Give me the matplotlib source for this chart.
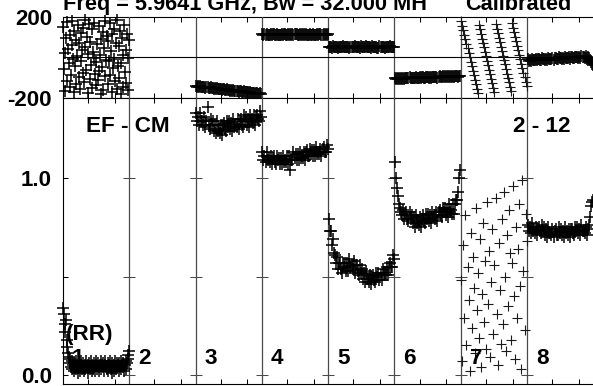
import matplotlib
matplotlib.use('Agg')
import matplotlib.pyplot as plt
import numpy as np

plt.rcParams['font.family'] = ['Liberation Sans', 'DejaVu Sans']
plt.rcParams['font.weight'] = 'bold'

# ---------------- data ----------------
panel_labels = ['1', '2', '3', '4', '5', '6', '7', '8']
title_left = 'Freq = 5.9641 GHz, Bw = 32.000 MH'
title_right = 'Calibrated'
baseline_label = 'EF - CM'
time_label = '2 - 12'
pol_label = '(RR)'

ph_1 = [150, -60, 20, -170, 95, -120, 175, 40, -30, -150, 110, -90, 60, 180, -10, -175,
        130, -45, 85, -135, 5, 160, -100, 70, -160, 120, -20, 35, -80, 145, -125, 185,
        50, -65, 100, -180, 15, 165, -110, 75, -40, 140, -155, 25, -5, 170, -85, -140,
        -25, 65, -115, 155, -70, 10, -185, 90, -50, 125, -165, 45, -95, 178, -15, 105,
        -135, 80, -20, 168, -88, 32, -172, 118, -55, 142, -8, -118, 72, -158, 186, -42,
        58, -102, 132, -28, -182, 98, 12, -148, 162, -72, 38, -128, 115, -3, -162, 88]
am_1 = [.34, .31, .26, .22, .28, .18, .14, .11, .09, .06, .08, .04, .07, .03, .05, .02,
        .06, .04, .07, .03, .05, .01, .06, .04, .02, .05, .07, .03, .04, .06, .02, .05,
        .03, .07, .04, .01, .05, .06, .03, .04, .07, .02, .05, .03, .06, .04, .02, .05,
        .07, .03, .06, .04, .02, .05, .07, .03, .05, .04, .06, .02, .05, .07, .04, .03,
        .06, .02, .05, .04, .07, .03, .01, .06, .04, .05, .02, .07, .03, .06, .04, .05,
        .02, .06, .04, .07, .03, .05, .04, .06, .02, .05, .07, .03, .06, .08, .10, .12]
ph_2 = []
am_2 = []
ph_3 = [-142, -147, -144, -149, -143, -148, -148, -150, -147, -152, -149, -149, -152, -154, -149, -153,
        -152, -156, -154, -158, -153, -158, -157, -160, -156, -162, -159, -158, -162, -163, -159, -163,
        -161, -166, -163, -168, -163, -167, -167, -169, -166, -172, -168, -168, -171, -173, -169, -172,
        -171, -175, -173, -178, -172, -177, -176, -179, -176, -181, -178, -177, -181, -183, -178, -182]
am_3 = [1.33, 1.29, 1.31, 1.27, 1.33, 1.29, 1.29, 1.27, 1.31, 1.26, 1.29, 1.36, 1.27, 1.25, 1.30, 1.27,
        1.29, 1.24, 1.27, 1.23, 1.29, 1.24, 1.25, 1.23, 1.27, 1.22, 1.27, 1.28, 1.25, 1.24, 1.29, 1.26,
        1.29, 1.25, 1.28, 1.24, 1.30, 1.26, 1.27, 1.26, 1.30, 1.25, 1.29, 1.30, 1.27, 1.26, 1.32, 1.29,
        1.31, 1.27, 1.30, 1.26, 1.32, 1.29, 1.30, 1.28, 1.32, 1.27, 1.31, 1.32, 1.30, 1.29, 1.34, 1.31]
ph_4 = [115, 111, 114, 110, 117, 112, 113, 111, 115, 110, 114, 115, 112, 111, 117, 113,
        112, 113, 111, 115, 110, 114, 115, 112, 111, 116, 113, 115, 111, 114, 110, 116,
        114, 115, 112, 111, 116, 113, 115, 111, 114, 110, 116, 112, 113, 111, 115, 110,
        110, 116, 112, 113, 111, 115, 110, 114, 115, 112, 111, 116, 113, 115, 111, 114]
am_4 = [1.13, 1.09, 1.11, 1.08, 1.13, 1.09, 1.10, 1.08, 1.11, 1.07, 1.10, 1.11, 1.08, 1.07, 1.11, 1.09,
        1.10, 1.07, 1.10, 1.07, 1.11, 1.08, 1.09, 1.08, 1.11, 1.07, 1.11, 1.04, 1.09, 1.09, 1.13, 1.10,
        1.12, 1.09, 1.12, 1.09, 1.13, 1.10, 1.11, 1.10, 1.13, 1.09, 1.13, 1.14, 1.11, 1.11, 1.15, 1.12,
        1.14, 1.11, 1.14, 1.11, 1.16, 1.12, 1.13, 1.12, 1.15, 1.11, 1.15, 1.16, 1.13, 1.13, 1.17, 1.15]
ph_5 = [53, 49, 52, 48, 54, 50, 51, 49, 53, 48, 52, 53, 50, 49, 54, 51,
        50, 51, 49, 53, 48, 52, 53, 50, 49, 54, 51, 53, 49, 52, 48, 54,
        52, 53, 50, 49, 54, 51, 53, 49, 52, 48, 54, 50, 51, 49, 53, 48,
        48, 54, 50, 51, 49, 53, 48, 52, 53, 50, 49, 54, 51, 53, 49, 52]
am_5 = [.79, .73, .73, .66, .69, .62, .61, .57, .60, .54, .57, .57, .54, .52, .57, .55,
        .57, .53, .57, .53, .59, .55, .56, .54, .58, .52, .56, .56, .53, .51, .56, .52,
        .54, .49, .52, .47, .53, .49, .49, .47, .51, .46, .50, .51, .48, .47, .52, .50,
        .52, .48, .51, .48, .54, .51, .52, .51, .55, .51, .55, .57, .55, .55, .61, .59]
ph_6 = [-104, -108, -105, -108, -102, -106, -105, -107, -102, -107, -103, -102, -105, -105, -100, -103,
        -101, -105, -101, -105, -99, -103, -102, -103, -99, -104, -100, -99, -101, -102, -97, -100,
        -98, -101, -98, -102, -96, -100, -98, -100, -96, -101, -97, -95, -98, -99, -94, -97,
        -94, -98, -95, -99, -93, -96, -95, -97, -93, -98, -93, -92, -95, -96, -91, -93]
am_6 = [1.08, 1.00, .95, .91, .87, .85, .83, .81, .84, .79, .82, .83, .79, .78, .83, .79,
        .81, .77, .80, .75, .81, .77, .78, .76, .80, .75, .79, .81, .78, .77, .82, .79,
        .82, .78, .81, .77, .83, .80, .81, .79, .83, .78, .83, .84, .81, .80, .85, .83,
        .85, .81, .84, .80, .87, .83, .84, .82, .87, .82, .87, .89, .89, .93, 1.00, 1.04]
ph_7 = [178, 156, 133, 112, 89, 67, 45, 22, 0, -22, -45, -67, -89, -111, -134, -156,
        -178, 160, 138, 116, 93, 71, 49, 27, 4, -18, -40, -63, -85, -107, -129, -152,
        -174, 164, 142, 120, 97, 75, 53, 31, 8, -14, -36, -58, -81, -103, -125, -147,
        -170, 168, 146, 124, 101, 79, 57, 35, 12, -10, -32, -54, -77, -99, -121, -143]
am_7 = [.48, .07, .66, .29, .81, .15, .55, .38, .02, .72, .24, .60, .44, .11, .85, .33,
        .52, .19, .69, .04, .41, .77, .27, .58, .13, .88, .36, .63, .09, .47, .74, .21,
        .56, .90, .31, .05, .67, .43, .16, .79, .26, .93, .50, .12, .71, .35, .84, .62,
        .18, .57, .96, .40, .08, .75, .29, .64, .87, .45, .03, .99, .53, .23, .82, .68]
ph_8 = [-11, -17, -12, -18, -8, -14, -12, -15, -9, -16, -10, -8, -12, -14, -6, -10,
        -7, -12, -8, -13, -4, -10, -8, -11, -5, -12, -6, -4, -8, -9, -1, -6,
        -2, -8, -3, -9, 0, -6, -4, -6, 0, -7, -1, 1, -4, -5, 3, -1,
        2, -4, 1, -5, 5, -1, 1, -2, 4, -3, 3, -4, -12, -22, -32, -40]
am_8 = [.76, .73, .75, .72, .77, .73, .74, .72, .75, .71, .74, .75, .73, .72, .76, .73,
        .75, .71, .74, .70, .75, .72, .72, .71, .74, .70, .73, .74, .71, .71, .75, .72,
        .74, .71, .73, .70, .75, .72, .73, .71, .74, .70, .74, .74, .72, .71, .75, .73,
        .75, .72, .74, .71, .76, .73, .73, .72, .75, .71, .74, .76, .80, .86, .88, .89]

phases = [ph_1, ph_2, ph_3, ph_4, ph_5, ph_6, ph_7, ph_8]
amps = [am_1, am_2, am_3, am_4, am_5, am_6, am_7, am_8]
sparse_panels = [6]   # panel 7 (index 6) is drawn with thin strokes

# ---------------- layout ----------------
W, H = 593, 386
fig = plt.figure(figsize=(W / 100, H / 100), dpi=100)

def fx(px):
    return px / W

def fy(py):
    return 1 - py / H

x_left, x_right = 63, 63 + 8 * 66.3
ph_top, split, am_bot = 17, 97.5, 383.5

ax_ph = fig.add_axes([fx(x_left), fy(split), (x_right - x_left) / W, (split - ph_top) / H])
ax_am = fig.add_axes([fx(x_left), fy(am_bot), (x_right - x_left) / W, (am_bot - split) / H])

npan = len(panel_labels)
xt = []
for i in range(npan):
    xt += [i + 0.38, i + 0.78]

sep_col = '#4a4a4a'
for ax in (ax_ph, ax_am):
    ax.set_xlim(0, npan)
    ax.spines['right'].set_visible(False)
    for s in ('left', 'top', 'bottom'):
        ax.spines[s].set_linewidth(0.8)
    ax.set_xticks(xt)
    ax.tick_params(axis='x', direction='in', top=True, bottom=True, length=3.5, width=0.75,
                   labelbottom=False)
    ax.tick_params(axis='y', direction='in', left=True, right=False, length=3.8, width=0.75,
                   labelsize=16, pad=8)
    for i in range(1, npan):
        ax.axvline(i, color=sep_col, lw=0.9, zorder=3)

ax_ph.set_ylim(-200, 200)
ax_ph.set_yticks([-200, 200])
ax_ph.set_yticklabels(['-200', '200'])
ax_ph.axhline(0, color='black', lw=0.8, zorder=3)

ax_am.set_ylim(-0.043, 1.409)
ax_am.set_yticks([0.0, 0.5, 1.0])
ax_am.set_yticklabels(['0.0', '', '1.0'])
ax_am.plot(np.repeat(np.arange(1, npan), 3), np.tile([0.0, 0.5, 1.0], npan - 1), ls='none',
           marker='_', ms=8.5, mew=0.75, color=sep_col, zorder=3)

for i in range(npan):
    if i in sparse_panels:
        mk = dict(ls='none', marker='+', ms=7.5, mew=0.8, color='#1a1a1a', clip_on=False, zorder=4)
    else:
        mk = dict(ls='none', marker='+', ms=8.0, mew=1.1, color='black', clip_on=False, zorder=4)
    n = len(phases[i])
    if n:
        xs = i + (np.arange(n) + 0.5) / n
        ax_ph.plot(xs, phases[i], **mk)
    n = len(amps[i])
    if n:
        xs = i + (np.arange(n) + 0.5) / n
        ax_am.plot(xs, amps[i], **mk)

# ---------------- texts ----------------
fs = 16.2
for i, lab in enumerate(panel_labels):
    ax_am.text(i + 9 / 66.3, 0.056, lab, fontsize=fs, fontweight='bold', ha='left',
               va='baseline', zorder=5)
ax_am.text(3 / 66.3, 0.178, pol_label, fontsize=fs, fontweight='bold', ha='left',
           va='baseline', zorder=5)
ax_am.text(23 / 66.3, 1.234, baseline_label, fontsize=fs, fontweight='bold', ha='left',
           va='baseline', zorder=5)
ax_am.text(6 + 52 / 66.3, 1.234, time_label, fontsize=fs, fontweight='bold', ha='left',
           va='baseline', zorder=5)

fig.text(fx(63), fy(10), title_left, fontsize=15.7, fontweight='bold', ha='left', va='baseline')
fig.text(fx(465), fy(10), title_right, fontsize=15.7, fontweight='bold', ha='left', va='baseline')

fig.savefig('out.png', dpi=100)
